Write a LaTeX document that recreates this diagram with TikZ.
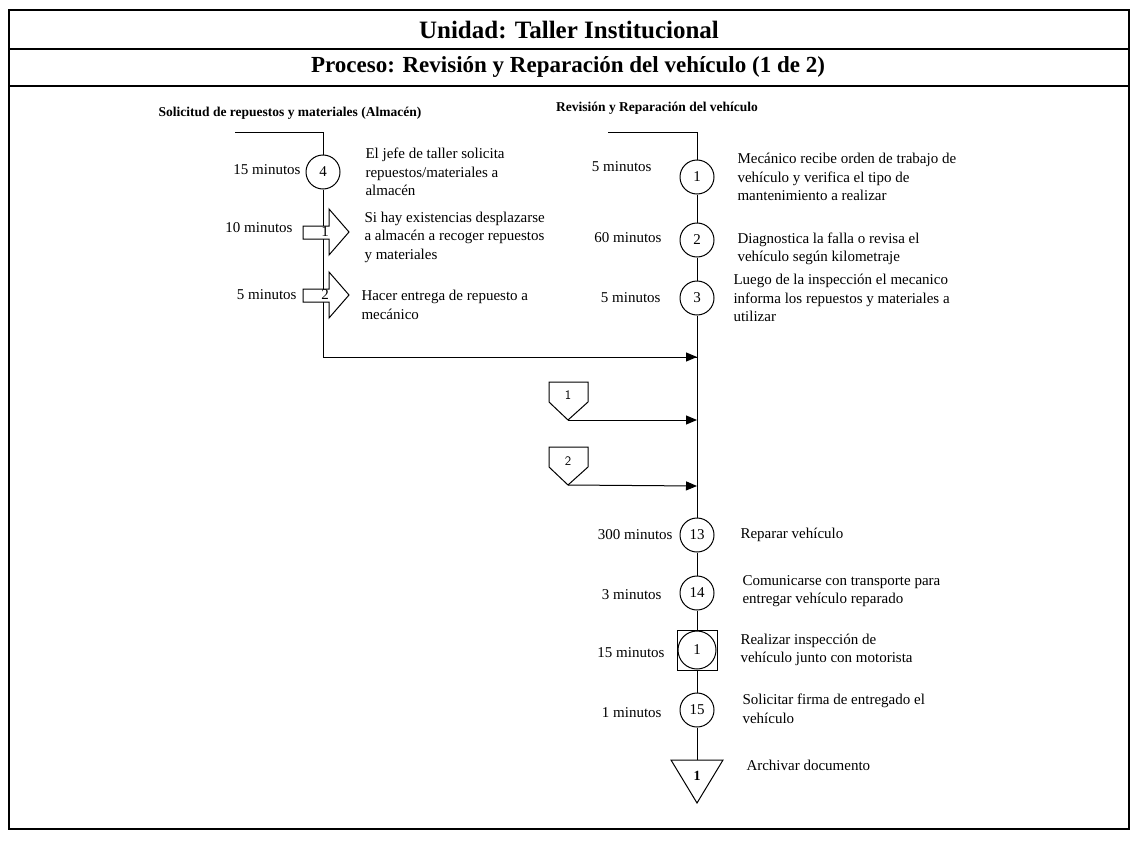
\documentclass[tikz,border=0pt]{standalone}
\usepackage{fontspec}
\setmainfont{Liberation Serif}
\usetikzlibrary{arrows.meta}
\begin{document}
\begin{tikzpicture}[x=1pt,y=-1pt,
  line width=1pt,
  frame/.style={line width=1.6pt},
  title/.style={font=\fontsize{23}{26}\selectfont\bfseries},
  lane/.style={font=\fontsize{13.5}{16}\selectfont\bfseries},
  oper/.style={circle,draw,fill=white,minimum size=34pt,inner sep=0pt,font=\fontsize{15}{18}\selectfont},
  desc/.style={anchor=west,align=left,inner sep=0pt,font=\fontsize{15}{18.5}\selectfont},
  tlabel/.style={anchor=east,inner sep=0pt,font=\fontsize{15}{18}\selectfont},
  num/.style={inner sep=0pt,font=\fontsize{15}{18}\selectfont},
  shapebox/.style={draw,fill=white,line width=1pt},
  flow/.style={-{Triangle[length=11pt,width=9pt]}},
  conlabel/.style={inner sep=0pt,font=\sffamily\fontsize{13}{15}\selectfont}
]
\useasboundingbox (0,0) rectangle (1134,840);

% outer frame and title rows
\draw[frame] (9,10) rectangle (1129,829);
\draw[frame] (9,49) -- (1129,49);
\draw[frame] (9,86) -- (1129,86);
\node[title,font=\fontsize{25}{28}\selectfont\bfseries] (unidad) at (569,30) {Unidad: Taller Institucional};
\node[title] (proceso) at (568,67) {Proceso: Revisión y Reparación del vehículo (1 de 2)};

% lane headings
\node[lane] (laneA) at (290,113) {Solicitud de repuestos y materiales (Almacén)};
\node[lane] (laneB) at (657,108) {Revisión y Reparación del vehículo};

% ---------- left lane: almacén ----------
\coordinate (aStart) at (235,132);
\coordinate (aCorner) at (323,132);
\node[oper] (c4) at (323,172) {4};
\coordinate (aBottom) at (323,357);
\coordinate (bJoin) at (697,357);
\draw (aStart) -- (aCorner) -- (c4) -- (aBottom) -- (bJoin);
\draw[flow] (aBottom) -- (bJoin);

% transport arrows
\draw[shapebox] (303,226) -- (329,226) -- (329,209) -- (349,232) -- (329,255) -- (329,239) -- (303,239) -- cycle;
\node[num] (t1) at (325,232) {1};
\draw[shapebox] (303,289) -- (329,289) -- (329,272) -- (349,295) -- (329,318) -- (329,302) -- (303,302) -- cycle;
\node[num] (t2) at (325,295) {2};

\node[tlabel] (l4) at (301,170) {15 minutos};
\node[tlabel] (lt1) at (293,228) {10 minutos};
\node[tlabel] (lt2) at (297,295) {5 minutos};

\node[desc] (d4) at (365,172) {El jefe de taller solicita\\repuestos/materiales a\\almacén};
\node[desc] (dt1) at (364,237) {Si hay existencias desplazarse\\a almacén a recoger repuestos\\y materiales};
\node[desc] (dt2) at (361,305) {Hacer entrega de repuesto a\\mecánico};

% ---------- right lane: revisión y reparación ----------
\coordinate (bStart) at (608,132);
\coordinate (bCorner) at (697,132);
\node[oper] (c1) at (697,177) {1};
\node[oper] (c2) at (697,240) {2};
\node[oper] (c3) at (697,298) {3};
\coordinate (bIn1) at (697,420);
\coordinate (bIn2) at (697,486);
\node[oper] (c13) at (697,535) {13};
\node[oper] (c14) at (697,593) {14};
\node[draw,minimum size=40pt,inner sep=0pt,fill=white] (insp) at (697,650) {};
\node[oper,minimum size=38pt] (c1b) at (697,650) {1};
\node[oper] (c15) at (697,710) {15};
\node[inner sep=0pt,minimum size=0pt] (store) at (697,760) {};

\draw (bStart) -- (bCorner) -- (c1) -- (c2) -- (c3) -- (c13) -- (c14) -- (insp) -- (c15) -- (store);

% off-page connectors
\draw[shapebox] (549,382) -- (588,382) -- (588,402) -- (568,420) -- (549,402) -- cycle;
\node[conlabel] (p1) at (568,395) {1};
\coordinate (p1tip) at (568,420);
\draw[flow] (p1tip) -- (bIn1);
\draw[shapebox] (549,447) -- (588,447) -- (588,467) -- (568,485) -- (549,467) -- cycle;
\node[conlabel] (p2) at (568,461) {2};
\coordinate (p2tip) at (568,485);
\draw[flow] (p2tip) -- (bIn2);

% storage
\draw[shapebox] (671,760) -- (723,760) -- (697,803) -- cycle;
\node[num,font=\fontsize{14}{16}\selectfont\bfseries] (s1) at (697,776) {1};

% time labels
\node[tlabel] (l1) at (652,167) {5 minutos};
\node[tlabel] (l2) at (662,238) {60 minutos};
\node[tlabel] (l3) at (661,298) {5 minutos};
\node[tlabel] (l13) at (673,535) {300 minutos};
\node[tlabel] (l14) at (662,595) {3 minutos};
\node[tlabel] (l1b) at (665,653) {15 minutos};
\node[tlabel] (l15) at (662,713) {1 minutos};

% descriptions
\node[desc] (d1) at (737,177) {Mecánico recibe orden de trabajo de\\vehículo y verifica el tipo de\\mantenimiento a realizar};
\node[desc] (d2) at (737,249) {Diagnostica la falla o revisa el\\vehículo según kilometraje};
\node[desc] (d3) at (733,298) {Luego de la inspección el mecanico\\informa los repuestos y materiales a\\utilizar};
\node[desc] (d13) at (740,535) {Reparar vehículo};
\node[desc] (d14) at (742,591) {Comunicarse con transporte para\\entregar vehículo reparado};
\node[desc] (d1b) at (740,650) {Realizar inspección de\\vehículo junto con motorista};
\node[desc] (d15) at (742,709) {Solicitar firma de entregado el\\vehículo};
\node[desc] (ds) at (746,765) {Archivar documento};
\end{tikzpicture}
\end{document}
